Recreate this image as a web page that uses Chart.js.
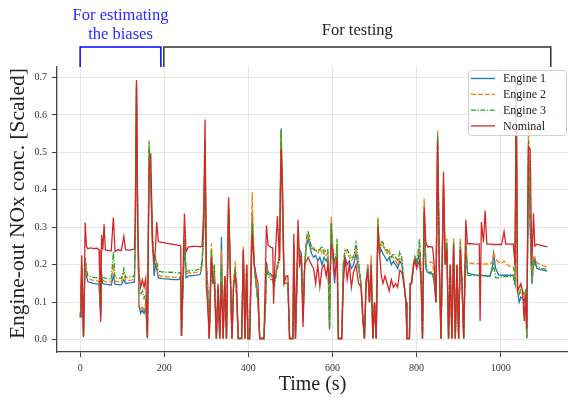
<!DOCTYPE html>
<html>
<head>
<meta charset="utf-8">
<script src="https://cdn.jsdelivr.net/npm/chart.js"></script>
<style>
  html, body { margin: 0; padding: 0; background: #fff; }
  canvas { display: block; }
</style>
</head>
<body>
<canvas id="noxChart" width="568" height="398"></canvas>
<script>
// time stamps (s), shared by all series
const timeSec = [
    0, 2, 4, 6, 8, 10, 12, 15, 18, 25,
    32, 40, 45, 47, 49, 51, 54, 57, 60, 67,
    74, 79, 83, 90, 98, 104, 108, 115, 122, 129,
    131, 134, 137, 140, 144, 148, 152, 156, 160, 164,
    168, 172, 176, 179, 182, 186, 195, 205, 215, 225,
    235, 239, 241, 245, 248, 252, 258, 268, 278, 286,
    290, 294, 297, 300, 303, 307, 312, 316, 319, 324,
    328, 332, 336, 340, 344, 348, 353, 358, 361, 365,
    369, 372, 376, 384, 388, 392, 396, 399, 403, 409,
    414, 419, 423, 427, 437, 441, 443, 447, 453, 458,
    460, 463, 469, 474, 478, 482, 485, 490, 494, 498,
    506, 508, 512, 518, 522, 526, 530, 534, 538, 542,
    546, 550, 555, 560, 565, 570, 575, 580, 585, 589,
    593, 597, 601, 605, 609, 611, 614, 622, 626, 630,
    635, 640, 645, 650, 656, 662, 668, 672, 676, 680,
    684, 688, 692, 696, 700, 704, 708, 712, 716, 720,
    725, 730, 735, 740, 745, 750, 755, 760, 765, 771,
    775, 777, 783, 785, 788, 793, 796, 800, 803, 807,
    811, 814, 818, 822, 826, 832, 838, 842, 846, 850,
    854, 858, 864, 868, 872, 876, 880, 884, 888, 892,
    896, 900, 904, 908, 912, 917, 921, 930, 940, 949,
    951, 954, 959, 963, 967, 975, 981, 983, 988, 995,
    1002, 1008, 1012, 1020, 1030, 1034, 1037, 1040, 1044, 1048,
    1052, 1056, 1059, 1062, 1066, 1070, 1074, 1078, 1081, 1086,
    1095, 1103, 1111
];

const engine1 = [
    .06, .09, .19, .10, .01, .12, .20, .17, .155, .152,
    .15, .149, .148, .10, .06, .17, .15, .148, .148, .147,
    .146, .17, .148, .147, .147, .16, .15, .151, .152, .154,
    .25, .67, .30, .09, .07, .08, .07, .09, .005, .51,
    .40, .26, .17, .20, .19, .165, .163, .162, .161, .16,
    .16, .17, .01, .15, .26, .165, .17, .171, .172, .175,
    .20, .30, .50, .20, .14, .003, .22, .15, .18, .003,
    .14, .003, .274, .003, .17, .003, .35, .14, .003, .15,
    .18, .12, .003, .003, .23, .003, .19, .003, .003, .34,
    .20, .14, .10, .003, .003, .10, .207, .18, .175, .17,
    .15, .16, .20, .22, .564, .30, .15, .15, .15, .003,
    .003, .25, .003, .25, .24, .23, .06, .20, .25, .27,
    .25, .23, .22, .225, .21, .22, .20, .22, .21, .22,
    .03, .31, .22, .15, .21, .25, .003, .003, .20, .22,
    .20, .21, .19, .20, .23, .19, .15, .06, .003, .15,
    .20, .10, .21, .003, .10, .003, .31, .23, .24, .23,
    .22, .21, .22, .20, .21, .20, .19, .21, .20, .14,
    .10, .003, .003, .15, .15, .20, .22, .20, .21, .24,
    .15, .003, .33, .19, .18, .176, .175, .15, .10, .54,
    .20, .003, .40, .20, .25, .003, .20, .003, .26, .003,
    .20, .003, .25, .15, .003, .25, .178, .175, .173, .172,
    .172, .172, .171, .171, .171, .17, .20, .23, .19, .173,
    .172, .172, .172, .172, .172, .15, .60, .13, .10, .114,
    .11, .10, .12, .005, .50, .30, .15, .20, .216, .19,
    .187, .185, .183
];

const engine2 = [
    .06, .10, .19, .10, .01, .12, .21, .18, .165, .16,
    .158, .157, .156, .11, .07, .17, .16, .156, .155, .155,
    .154, .20, .156, .155, .155, .18, .158, .158, .159, .162,
    .26, .685, .30, .10, .08, .09, .08, .10, .005, .52,
    .44, .30, .20, .22, .20, .172, .169, .168, .167, .167,
    .166, .17, .01, .16, .28, .175, .178, .179, .18, .182,
    .20, .30, .52, .20, .15, .003, .256, .16, .20, .003,
    .14, .003, .24, .003, .17, .003, .37, .14, .003, .16,
    .21, .12, .003, .003, .248, .003, .20, .003, .003, .394,
    .20, .15, .10, .003, .003, .10, .20, .175, .17, .165,
    .14, .16, .20, .22, .555, .30, .15, .15, .15, .003,
    .003, .26, .003, .26, .22, .20, .07, .21, .26, .28,
    .26, .25, .24, .24, .23, .245, .23, .24, .225, .23,
    .04, .328, .23, .20, .22, .26, .003, .003, .21, .24,
    .23, .22, .21, .22, .24, .20, .15, .06, .003, .15,
    .20, .10, .225, .003, .10, .003, .328, .23, .26, .25,
    .24, .23, .24, .22, .22, .21, .20, .22, .21, .14,
    .10, .003, .003, .15, .16, .21, .22, .21, .22, .25,
    .16, .003, .377, .21, .207, .207, .206, .16, .10, .56,
    .20, .003, .42, .21, .27, .003, .20, .003, .27, .003,
    .20, .003, .27, .15, .003, .26, .205, .204, .203, .203,
    .203, .203, .202, .202, .202, .201, .21, .234, .215, .207,
    .204, .21, .203, .197, .194, .16, .60, .13, .12, .13,
    .12, .11, .13, .005, .58, .35, .16, .22, .22, .205,
    .20, .196, .194
];

const engine3 = [
    .06, .11, .20, .10, .01, .13, .22, .19, .172, .168,
    .166, .165, .164, .12, .075, .18, .165, .165, .164, .163,
    .162, .234, .165, .164, .164, .19, .166, .167, .168, .17,
    .27, .68, .30, .13, .12, .13, .11, .12, .003, .532,
    .42, .28, .20, .22, .21, .183, .181, .18, .18, .179,
    .178, .18, .01, .17, .27, .18, .184, .185, .186, .19,
    .21, .30, .53, .21, .15, .003, .24, .16, .20, .003,
    .13, .003, .20, .003, .16, .003, .35, .14, .003, .15,
    .19, .11, .003, .003, .24, .003, .20, .003, .003, .31,
    .20, .14, .10, .003, .003, .10, .19, .17, .16, .16,
    .14, .15, .19, .21, .56, .30, .15, .15, .14, .003,
    .003, .25, .003, .25, .23, .21, .05, .20, .27, .29,
    .27, .24, .245, .235, .24, .24, .25, .23, .24, .24,
    .025, .31, .24, .21, .23, .27, .003, .003, .20, .24,
    .24, .23, .22, .22, .258, .21, .14, .05, .003, .15,
    .19, .10, .20, .003, .10, .003, .32, .23, .26, .26,
    .24, .24, .23, .22, .23, .22, .21, .234, .22, .14,
    .09, .003, .003, .14, .15, .20, .22, .21, .23, .27,
    .17, .003, .34, .20, .18, .18, .18, .16, .10, .55,
    .20, .003, .41, .20, .26, .003, .19, .003, .26, .003,
    .19, .003, .26, .15, .003, .27, .172, .171, .171, .171,
    .171, .171, .17, .17, .17, .17, .19, .20, .165, .165,
    .167, .168, .168, .168, .168, .15, .60, .13, .12, .14,
    .13, .12, .13, .003, .532, .33, .15, .21, .20, .195,
    .19, .189, .188
];

const nominal = [
    .062, .14, .225, .10, .007, .15, .313, .25, .243, .245,
    .243, .244, .24, .15, .047, .28, .24, .308, .24, .238,
    .237, .326, .235, .24, .238, .276, .24, .239, .24, .242,
    .30, .693, .30, .176, .14, .16, .14, .163, .007, .45,
    .497, .25, .21, .24, .314, .262, .26, .258, .256, .254,
    .252, .25, .01, .20, .337, .235, .248, .249, .249, .248,
    .25, .35, .588, .14, .10, .003, .22, .15, .15, .003,
    .15, .003, .15, .003, .17, .003, .38, .14, .003, .15,
    .17, .15, .005, .003, .24, .003, .20, .003, .003, .283,
    .20, .17, .15, .003, .003, .20, .305, .252, .247, .245,
    .096, .20, .33, .21, .51, .38, .15, .17, .17, .003,
    .003, .283, .003, .32, .20, .22, .034, .20, .21, .22,
    .21, .20, .19, .15, .20, .14, .19, .20, .17, .20,
    .15, .25, .24, .17, .20, .22, .003, .003, .15, .22,
    .16, .20, .14, .18, .20, .15, .14, .07, .003, .16,
    .18, .10, .20, .003, .10, .003, .30, .23, .17, .15,
    .17, .15, .13, .16, .14, .15, .14, .185, .18, .14,
    .10, .003, .003, .15, .15, .20, .21, .19, .20, .21,
    .15, .003, .354, .26, .248, .248, .247, .20, .10, .53,
    .20, .003, .448, .20, .24, .003, .20, .003, .25, .003,
    .20, .003, .24, .15, .003, .32, .256, .256, .255, .255,
    .05, .314, .26, .345, .255, .255, .254, .254, .254, .254,
    .254, .288, .255, .255, .255, .20, .685, .13, .14, .15,
    .13, .05, .12, .03, .515, .51, .20, .337, .25, .255,
    .252, .25, .248
];

const seriesNames = ['Engine 1', 'Engine 2', 'Engine 3', 'Nominal'];
const xTicks = [0, 200, 400, 600, 800, 1000];
const yTicks = [0, 0.1, 0.2, 0.3, 0.4, 0.5, 0.6, 0.7];
// bracket spans above the plot (s)
const biasSpan = [0, 192];
const testSpan = [199, 1119];

const serif = "'Liberation Serif', 'DejaVu Serif', serif";

function toPoints(values) {
    return timeSec.map(function(t, i) { return { x: t, y: values[i] }; });
}

const styles = [
    { color: '#1f77b4', dash: [], order: 3 },
    { color: '#ff7f0e', dash: [5, 2], order: 2 },
    { color: '#2ca02c', dash: [5, 1.6, 1.2, 1.6], order: 1 },
    { color: '#d62728', dash: [], order: 0 }
];
const allValues = [engine1, engine2, engine3, nominal];

const datasets = seriesNames.map(function(name, i) {
    return {
        label: name,
        data: toPoints(allValues[i]),
        borderColor: styles[i].color,
        borderDash: styles[i].dash,
        borderWidth: 1.3,
        pointRadius: 0,
        tension: 0,
        fill: false,
        order: styles[i].order
    };
});

const decorPlugin = {
    id: 'decor',
    afterDraw: function(chart) {
        const ctx = chart.ctx;
        const xs = chart.scales.x;
        const area = chart.chartArea;
        ctx.save();

        // brackets above the plot
        function bracket(span, color) {
            const x0 = xs.getPixelForValue(span[0]);
            const x1 = xs.getPixelForValue(span[1]);
            ctx.strokeStyle = color;
            ctx.lineWidth = 1.5;
            ctx.beginPath();
            ctx.moveTo(x0, area.top);
            ctx.lineTo(x0, 47);
            ctx.lineTo(x1, 47);
            ctx.lineTo(x1, area.top);
            ctx.stroke();
            return (x0 + x1) / 2;
        }
        const bx = bracket(biasSpan, '#0000ff');
        const tx = bracket(testSpan, '#333333');
        ctx.textAlign = 'center';
        ctx.textBaseline = 'middle';
        ctx.font = '16.5px ' + serif;
        ctx.fillStyle = '#2a2aff';
        ctx.fillText('For estimating', bx, 16);
        ctx.fillText('the biases', bx, 35);
        ctx.fillStyle = '#222';
        ctx.fillText('For testing', tx, 31);

        // axis titles
        ctx.fillStyle = '#222';
        ctx.font = '20px ' + serif;
        ctx.fillText('Time (s)', (area.left + area.right) / 2, 385);
        ctx.font = '21.5px ' + serif;
        ctx.translate(18, (area.top + area.bottom) / 2 - 6);
        ctx.rotate(-Math.PI / 2);
        ctx.fillText('Engine-out NOx conc. [Scaled]', 0, 0);
        ctx.setTransform(1, 0, 0, 1, 0, 0);

        // legend box
        const lx = 468, ly = 70, lw = 98, lh = 65;
        ctx.fillStyle = 'rgba(255,255,255,0.8)';
        ctx.strokeStyle = '#d0d0d0';
        ctx.lineWidth = 1;
        ctx.beginPath();
        ctx.roundRect(lx + 0.5, ly + 0.5, lw, lh, 3);
        ctx.fill();
        ctx.stroke();
        ctx.font = '12px ' + serif;
        ctx.textAlign = 'left';
        seriesNames.forEach(function(name, i) {
            const y = 78.5 + i * 15.8;
            ctx.strokeStyle = styles[i].color;
            ctx.lineWidth = 1.3;
            ctx.setLineDash(styles[i].dash);
            ctx.beginPath();
            ctx.moveTo(471, y);
            ctx.lineTo(495, y);
            ctx.stroke();
            ctx.setLineDash([]);
            ctx.fillStyle = '#222';
            ctx.fillText(name, 503, y + 0.5);
        });
        ctx.restore();
    }
};

new Chart(document.getElementById('noxChart'), {
    type: 'line',
    data: { datasets: datasets },
    options: {
        responsive: false,
        animation: false,
        devicePixelRatio: 1,
        layout: { padding: { top: 67, right: 0, left: 0, bottom: 0 } },
        plugins: {
            legend: { display: false },
            tooltip: { enabled: false }
        },
        scales: {
            x: {
                type: 'linear',
                min: -55,
                max: 1160,
                afterFit: function(s) { s.height = 46; },
                afterBuildTicks: function(s) {
                    s.ticks = xTicks.map(function(v) { return { value: v }; });
                },
                ticks: {
                    font: { family: serif, size: 10 },
                    color: '#333',
                    padding: 5,
                    maxRotation: 0,
                    callback: function(v) { return String(v); }
                },
                grid: { color: '#e6e6e6', tickColor: '#444', tickLength: 5, lineWidth: 1 },
                border: { display: true, color: '#444', width: 1.3 }
            },
            y: {
                type: 'linear',
                min: -0.033,
                max: 0.728,
                afterFit: function(s) { s.width = 57; },
                afterBuildTicks: function(s) {
                    s.ticks = yTicks.map(function(v) { return { value: v }; });
                },
                ticks: {
                    font: { family: serif, size: 10 },
                    color: '#333',
                    padding: 5,
                    callback: function(v) { return v.toFixed(1); }
                },
                grid: { color: '#e6e6e6', tickColor: '#444', tickLength: 5, lineWidth: 1 },
                border: { display: true, color: '#444', width: 1.3 }
            }
        }
    },
    plugins: [decorPlugin]
});
</script>
</body>
</html>
